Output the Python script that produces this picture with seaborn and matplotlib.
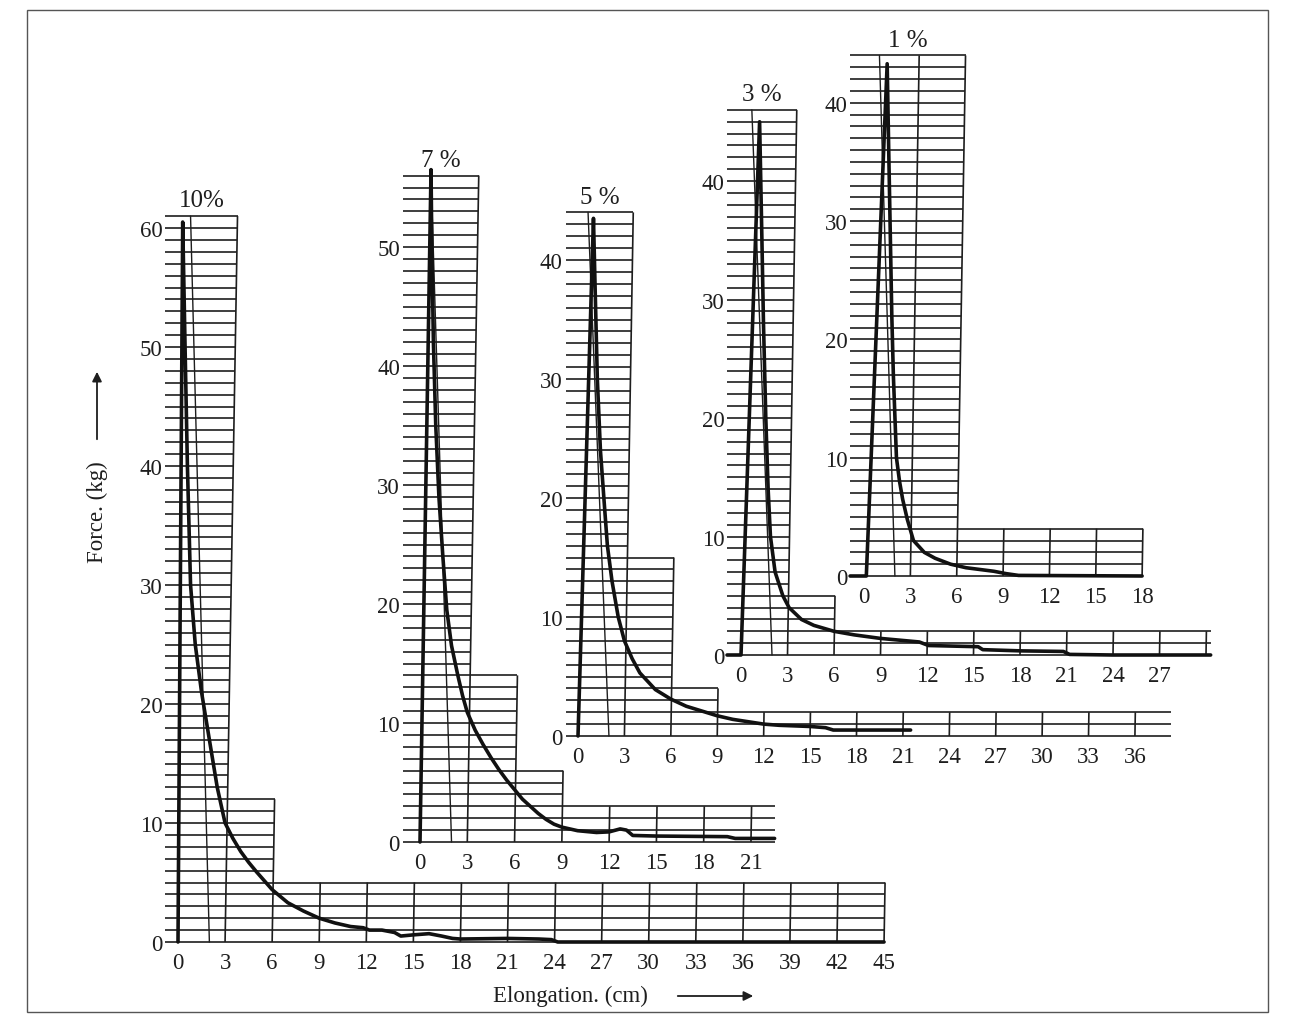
import matplotlib
matplotlib.use("Agg")
import matplotlib.pyplot as plt
from matplotlib.collections import LineCollection
from matplotlib.patches import FancyArrowPatch, Rectangle
import numpy as np
import seaborn as sns

# ---- data ----
labels = ["10%", "7 %", "5 %", "3 %", "1 %"]

el_10 = [0, 0.3, 0.45, 0.6, 0.8, 1.1, 1.5, 2.0, 2.5, 3.0, 3.5, 4.0, 4.5, 5.0, 6.0, 7.0, 8.0, 9.0,
         10.0, 11.0, 11.8, 12.2, 13.0, 13.8, 14.2, 15.0, 16.0, 16.8, 17.5, 18.0, 21.0, 23.0, 23.8,
         24.2, 30.0, 45.0]
f_10 = [0, 60.5, 50.0, 40.0, 30.0, 25.0, 21.0, 17.0, 13.0, 10.0, 8.7, 7.6, 6.7, 5.9, 4.4, 3.3, 2.6,
        2.0, 1.6, 1.3, 1.2, 1.0, 1.0, 0.8, 0.5, 0.6, 0.7, 0.5, 0.3, 0.25, 0.3, 0.25, 0.2, 0.0, 0.0, 0.0]

el_7 = [0, 0.7, 0.75, 0.85, 1.0, 1.2, 1.45, 1.7, 2.0, 2.4, 2.7, 3.0, 3.5, 4.0, 4.5, 5.0, 5.5, 6.0,
        6.5, 7.0, 7.5, 8.0, 8.5, 9.0, 10.0, 11.2, 12.0, 12.7, 13.1, 13.5, 15.0, 19.5, 20.0, 22.5]
f_7 = [0, 56.5, 50.0, 42.0, 35.0, 29.0, 24.0, 19.5, 16.5, 14.0, 12.3, 10.9, 9.4, 8.2, 7.1, 6.1,
       5.2, 4.4, 3.6, 3.0, 2.4, 1.9, 1.5, 1.25, 0.95, 0.8, 0.85, 1.1, 1.0, 0.55, 0.5, 0.45, 0.3, 0.3]

el_5 = [0, 1.0, 1.1, 1.25, 1.45, 1.7, 1.9, 2.2, 2.6, 3.0, 3.5, 4.0, 5.0, 6.0, 7.0, 8.0, 9.0, 10.0,
        11.0, 12.0, 13.0, 15.0, 16.0, 16.5, 21.5]
f_5 = [0, 43.5, 38.0, 30.0, 24.0, 19.5, 16.0, 13.0, 10.0, 8.0, 6.5, 5.3, 3.9, 3.1, 2.5, 2.1, 1.7,
       1.4, 1.2, 1.0, 0.9, 0.8, 0.7, 0.5, 0.5]

el_3 = [-0.9, 0, 1.2, 1.35, 1.45, 1.6, 1.75, 1.9, 2.2, 2.7, 3.1, 3.9, 4.7, 6.0, 7.3, 9.0, 11.5,
        12.1, 15.3, 15.6, 18.0, 20.8, 21.2, 24.0, 30.3]
f_3 = [0, 0, 45.0, 35.0, 28.0, 20.0, 14.0, 10.0, 7.0, 5.0, 4.0, 3.0, 2.5, 2.0, 1.7, 1.4, 1.1,
       0.8, 0.7, 0.45, 0.35, 0.3, 0.05, 0.0, 0.0]

el_1 = [-0.9, 0.15, 1.5, 1.6, 1.7, 1.8, 1.9, 2.1, 2.3, 2.5, 2.8, 3.2, 3.9, 4.6, 5.6, 6.6, 8.4,
        9.2, 10.0, 18.0]
f_1 = [0, 0, 43.3, 36.0, 29.0, 22.0, 17.0, 10.0, 8.0, 6.5, 4.8, 3.0, 2.0, 1.5, 1.0, 0.7, 0.4,
       0.2, 0.05, 0.0]

# chart paper outline: right end of each band (cm) and its height (kg)
paper_10_ends, paper_10_tops = [3, 6, 45], [61, 12, 5]
paper_7_ends, paper_7_tops = [3, 6, 9, 22.5], [56, 14, 6, 3]
paper_5_ends, paper_5_tops = [3, 6, 9, 38.3], [44, 15, 4, 2]
paper_3_ends, paper_3_tops = [3, 6, 30.3], [46, 5, 2]
paper_1_ends, paper_1_tops = [6, 18], [44, 4]

xtick_max = [45, 21, 36, 27, 18]
ytick_max = [60, 50, 40, 40, 40]

# ---- layout (pixel origin of each record and pixels per unit) ----
W, H = 1290, 1020
origin = [(178, 943, 15.69, 11.9), (420, 843, 15.76, 11.9), (578, 737, 15.47, 11.9),
          (741, 656, 15.5, 11.85), (864, 577, 15.45, 11.83)]
grid_left = [-0.8, -1.1, -0.8, -0.9, -0.9]
thin_top = [0.8, 0.7, 0.65, 0.7, 1.0]
skew = 0.013
ink = "#1e1e1e"

sns.set_style("white")
plt.rcParams["font.family"] = ["Liberation Serif", "DejaVu Serif"]

fig = plt.figure(figsize=(W / 100, H / 100), dpi=100)

curves = [(el_10, f_10), (el_7, f_7), (el_5, f_5), (el_3, f_3), (el_1, f_1)]
papers = [(paper_10_ends, paper_10_tops), (paper_7_ends, paper_7_tops),
          (paper_5_ends, paper_5_tops), (paper_3_ends, paper_3_tops),
          (paper_1_ends, paper_1_tops)]

for i, label in enumerate(labels):
    x0, y0, sx, sy = origin[i]
    ends, tops = papers[i]
    xlo, xhi = grid_left[i], ends[-1] + 0.3
    ylo, yhi = 0, tops[0] + 3

    ax = fig.add_axes([
        (x0 + xlo * sx) / W,
        (H - y0 + ylo * sy) / H,
        (xhi - xlo) * sx / W,
        (yhi - ylo) * sy / H,
    ])
    ax.set_xlim(xlo, xhi)
    ax.set_ylim(ylo, yhi)
    ax.patch.set_alpha(0)
    for s in ax.spines.values():
        s.set_visible(False)

    segs = []
    # horizontal rulings, one per kg
    for h in range(0, tops[0] + 1):
        right = max(e for e, t in zip(ends, tops) if t >= h)
        segs.append([(xlo, h), (right + skew * h, h)])
    # vertical rulings every 3 cm
    starts = [0] + ends[:-1]
    for xb in np.arange(3, ends[-1] + 0.01, 3):
        t = next(t for s0, e, t in zip(starts, ends, tops) if s0 < xb <= e + 1e-9)
        segs.append([(xb, 0), (xb + skew * t, t)])
    ax.add_collection(LineCollection(segs, colors=ink, linewidths=1.2, clip_on=False))
    ax.plot([thin_top[i], 2.0], [tops[0], 0], color=ink, lw=1.0, clip_on=False)

    el, f = curves[i]
    sns.lineplot(x=el, y=f, ax=ax, color="#111111", lw=2.6, sort=False,
                 estimator=None, legend=False)
    for ln in ax.lines:
        ln.set_clip_on(False)

    ax.set_xticks(np.arange(0, xtick_max[i] + 1, 3))
    ax.set_yticks(np.arange(0, ytick_max[i] + 1, 10))
    ax.tick_params(axis="x", length=0, pad=7, labelsize=16.5, colors=ink)
    ax.tick_params(axis="y", length=0, pad=2, labelsize=16.5, colors=ink)
    ax.set_xlabel("")
    ax.set_ylabel("")

    ax.text((xlo + ends[0] + skew * tops[0]) / 2, tops[0] + 0.4, label,
            ha="center", va="bottom", fontsize=18, color=ink)

# axis titles with arrows
fig.text(97 / W, 1 - 512 / H, "Force. (kg)", rotation=90, ha="center", va="center",
         fontsize=16.5, color=ink)
fig.add_artist(FancyArrowPatch((97 / W, 1 - 443 / H), (97 / W, 1 - 370 / H),
                               transform=fig.transFigure, arrowstyle="-|>",
                               mutation_scale=14, lw=1.3, color=ink))
fig.text(570 / W, 1 - 996 / H, "Elongation. (cm)", ha="center", va="center",
         fontsize=16.5, color=ink)
fig.add_artist(FancyArrowPatch((675 / W, 1 - 997 / H), (756 / W, 1 - 997 / H),
                               transform=fig.transFigure, arrowstyle="-|>",
                               mutation_scale=14, lw=1.3, color=ink))

fig.add_artist(Rectangle((27 / W, 1 - 1013 / H), (1268 - 27) / W, (1013 - 11) / H,
                         transform=fig.transFigure, fill=False, lw=1.0, ec="#555555"))

fig.savefig("out.png", dpi=100)
